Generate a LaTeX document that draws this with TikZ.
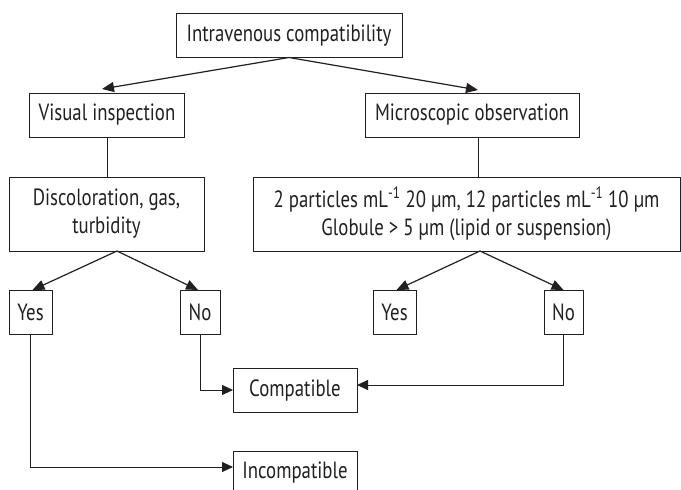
\documentclass[tikz,border=0pt]{standalone}
\usepackage{fontspec}
\setmainfont{PT Sans}[FakeStretch=0.8]
\usetikzlibrary{arrows.meta}
\definecolor{inkline}{HTML}{231F20}

\begin{document}
\begin{tikzpicture}[x=1pt,y=-1pt,
    every node/.style={draw=inkline, line width=0.8pt, inner sep=0pt, outer sep=0pt,
      minimum height=44pt, align=center, text=inkline,
      font=\fontsize{23.5}{28}\selectfont},
    flow/.style={draw=inkline, line width=1.2pt, -{Triangle[length=12pt,width=10pt]}},
    elbow/.style={draw=inkline, line width=0.8pt, -{Triangle[length=11pt,width=10pt]}},
    link/.style={draw=inkline, line width=0.8pt}]
  \useasboundingbox (0,0) rectangle (681,490);
  % boxes
  \node[minimum width=226pt] (intra) at (289,35.5) {Intravenous compatibility};
  \node[minimum width=155pt] (visual) at (107,115) {Visual inspection};
  \node[minimum width=214pt] (micro) at (472,115) {Microscopic observation};
  \node[minimum width=195pt, minimum height=74pt] (discol) at (106.5,214) {Discoloration, gas,\\ turbidity};
  \node[minimum width=427pt, minimum height=74pt] (partic) at (466.5,214)
    {2 particles mL\textsuperscript{-1} 20 µm, 12 particles mL\textsuperscript{-1} 10 µm\\ Globule > 5 µm (lipid or suspension)};
  \node[minimum width=43pt] (yesL) at (30.5,312) {Yes};
  \node[minimum width=40pt] (noL) at (200,312) {No};
  \node[minimum width=43pt] (yesR) at (394.5,312) {Yes};
  \node[minimum width=39pt] (noR) at (563.5,312) {No};
  \node[minimum width=124pt] (compat) at (295,390) {Compatible};
  \node[minimum width=124pt] (incompat) at (295,473) {Incompatible};
  % connectors
  \draw[flow] (intra.south) -- ([xshift=-5pt,yshift=4pt]visual.north);
  \draw[flow] (intra.south) -- ([xshift=6pt,yshift=3pt]micro.north);
  \draw[link] (visual.south) -- (visual.south |- discol.north);
  \draw[link] ([xshift=6pt]micro.south) -- ([xshift=6pt]micro.south |- partic.north);
  \draw[flow] ([xshift=10.5pt]discol.south) -- ([xshift=2pt]yesL.north);
  \draw[flow] ([xshift=10.5pt]discol.south) -- ([xshift=-2pt]noL.north);
  \draw[flow] ([xshift=13.5pt]partic.south) -- ([xshift=2pt]yesR.north);
  \draw[flow] ([xshift=13.5pt]partic.south) -- (noR.north);
  \draw[elbow] (noL.south) |- (compat.west);
  \draw[elbow] (noR.south) |- ([yshift=5pt]compat.east);
  \draw[elbow] (yesL.south) |- ([yshift=6pt]incompat.west);
\end{tikzpicture}
\end{document}
